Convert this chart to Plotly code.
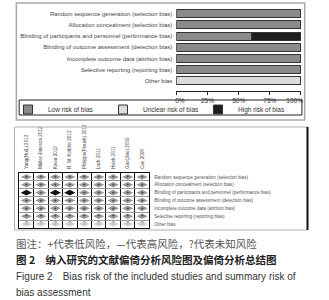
import plotly.graph_objects as go

W, H = 329, 300

# ---------------- data ----------------
domains = [
    "Random sequence generation (selection bias)",
    "Allocation concealment (selection bias)",
    "Blinding of participants and personnel (performance bias)",
    "Blinding of outcome assessment (detection bias)",
    "Incomplete outcome data (attrition bias)",
    "Selective reporting (reporting bias)",
    "Other bias",
]
low_pct = [100, 100, 60, 100, 100, 100, 0]
unclear_pct = [0, 0, 0, 0, 0, 0, 100]
high_pct = [0, 0, 40, 0, 0, 0, 0]
pct_ticks = [0, 25, 50, 75, 100]
pct_labels = ["0%", "25%", "50%", "75%", "100%"]

studies = [
    "Yang(Hu)Li 2013",
    "Müller-Jansson 2012",
    "Kawa 2012",
    "R. W. Kotbler 2012",
    "Philippe(Piyush) 2012",
    "Luck 2011",
    "Hsieh 2011",
    "Gao(Jiao) 2009",
    "Cao 2008",
]
# judgement per domain (rows) x study (cols): L low, H high, U unclear
judgements = [
    "LLLLLLLLL",
    "LLLLLLLLL",
    "HLHHLLLLL",
    "LLLLLLLLL",
    "LLLLLLLLL",
    "LLLLLLLLL",
    "UUUUUUUUU",
]

caption_note = "图注：+代表低风险，—代表高风险，?代表未知风险"
caption_cn = "图 2　纳入研究的文献偏倚分析风险图及偏倚分析总结图"
caption_en1 = "Figure 2　Bias risk of the included studies and summary risk of"
caption_en2 = "bias assessment"

C_LOW, C_UNC, C_HIGH = "#8a8a8a", "#dcdcdc", "#1e1e1e"
legend_names = ["Low risk of bias", "Unclear risk of bias", "High risk of bias"]

def px(x):
    return x / W

def py(y):
    return 1 - y / H

# edge tick labels sit inside the axis span (as in the reference)
NB = "\u00a0"
tick_text = list(pct_labels)
tick_text[0] = NB * 4 + tick_text[0]
tick_text[-1] = tick_text[-1] + NB * 7

fig = go.Figure()
rows = list(range(len(domains)))

# ---------------- top summary bars ----------------
for name, vals, col in zip(legend_names, [low_pct, unclear_pct, high_pct],
                           [C_LOW, C_UNC, C_HIGH]):
    fig.add_trace(go.Bar(
        y=rows, x=vals, orientation="h", name=name,
        marker=dict(color=col, line=dict(color="#333333", width=1)),
        xaxis="x", yaxis="y", showlegend=False, hoverinfo="skip",
    ))
# legend entries (small square keys)
for name, col in zip(legend_names, [C_LOW, C_UNC, C_HIGH]):
    fig.add_trace(go.Scatter(
        x=[None], y=[None], mode="markers", name=name,
        marker=dict(symbol="square", size=9, color=col,
                    line=dict(color="#333333", width=1)),
        xaxis="x", yaxis="y", showlegend=True,
    ))

# ---------------- bottom grid ----------------
mark_style = {
    "L": dict(color="#9a9a9a", txt="+", tcol="#222222"),
    "H": dict(color="#111111", txt="−", tcol="#111111"),
    "U": dict(color="#d2d2d2", txt="?", tcol="#888888"),
}
for key, st in mark_style.items():
    xs, ys = [], []
    for r, row in enumerate(judgements):
        for c, j in enumerate(row):
            if j == key:
                xs.append(c)
                ys.append(r)
    fig.add_trace(go.Scatter(
        x=xs, y=ys, mode="markers+text", text=[st["txt"]] * len(xs),
        textposition="middle center",
        textfont=dict(size=5, color=st["tcol"], family="Liberation Sans"),
        marker=dict(symbol="diamond-wide", size=8, color=st["color"],
                    line=dict(width=0)),
        xaxis="x2", yaxis="y2", showlegend=False, hoverinfo="skip",
    ))

# captions
caps = [
    (caption_note, 243, 10.5, "#555555", "Noto Sans CJK SC"),
    ("<b>" + caption_cn + "</b>", 259, 10.5, "#222222", "Noto Sans CJK SC"),
    (caption_en1, 276, 10, "#333333", "Liberation Sans"),
    (caption_en2, 292, 10, "#333333", "Liberation Sans"),
]
annotations = []
for txt, y, sz, col, fam in caps:
    annotations.append(dict(
        text=txt, x=px(6), y=py(y), xref="paper", yref="paper",
        xanchor="left", yanchor="middle", showarrow=False,
        font=dict(size=sz, color=col, family=fam),
    ))

shapes = [
    # top panel frame
    dict(type="rect", xref="paper", yref="paper", x0=px(9), x1=px(319),
         y0=py(120), y1=py(3), line=dict(color="#a8a8a8", width=1.5)),
    # legend box
    dict(type="rect", xref="paper", yref="paper", x0=px(12), x1=px(316),
         y0=py(115), y1=py(100), line=dict(color="#222222", width=1)),
    # bottom panel frame
    dict(type="rect", xref="paper", yref="paper", x0=px(7), x1=px(322),
         y0=py(230), y1=py(127), line=dict(color="#b0b0b0", width=1)),
    dict(type="line", xref="paper", yref="paper", x0=px(322), x1=px(322),
         y0=py(230), y1=py(127), line=dict(color="#111111", width=2)),
]

fig.update_layout(
    width=W, height=H, margin=dict(l=0, r=0, t=0, b=0),
    paper_bgcolor="white", plot_bgcolor="white",
    barmode="stack", bargap=0.28,
    font=dict(family="Liberation Sans", color="#333333"),
    xaxis=dict(domain=[px(181), px(315)], range=[0, 100], anchor="y",
               showgrid=False, zeroline=False, showline=True,
               linecolor="#222222", linewidth=1, ticks="outside", ticklen=3,
               tickcolor="#222222", tickvals=pct_ticks, ticktext=tick_text,
               ticklabeloverflow="allow",
               tickfont=dict(size=6.5, color="#333333")),
    yaxis=dict(domain=[py(91), py(8)], range=[6.9, -0.5], anchor="x",
               showgrid=False, zeroline=False, showline=False,
               tickvals=rows, ticktext=domains, ticks="",
               ticklabelstandoff=3,
               tickfont=dict(size=6, color="#444444")),
    xaxis2=dict(domain=[px(12), px(152)], range=[-0.5, len(studies) - 0.5],
                anchor="y2", side="top", showgrid=False, zeroline=False,
                showline=True, mirror=True, linecolor="#111111", linewidth=1,
                tickvals=list(range(len(studies))), ticktext=studies,
                tickangle=-90, ticks="", ticklabelstandoff=2,
                tickfont=dict(size=4.6, color="#444444"),
                minor=dict(tick0=0.5, dtick=1, showgrid=True,
                           gridcolor="#111111", gridwidth=1)),
    yaxis2=dict(domain=[py(228), py(173)], range=[len(domains) - 0.5, -0.5],
                anchor="x2", side="right", showgrid=False, zeroline=False,
                showline=True, mirror=True, linecolor="#111111", linewidth=1,
                tickvals=rows, ticktext=domains, ticks="", ticklabelstandoff=3,
                tickfont=dict(size=4.6, color="#555555"),
                minor=dict(tick0=0.5, dtick=1, showgrid=True,
                           gridcolor="#999999", gridwidth=1)),
    legend=dict(orientation="h", x=0, y=py(95), xanchor="left",
                yanchor="top", bgcolor="rgba(0,0,0,0)",
                entrywidth=50, entrywidthmode="pixels",
                itemwidth=30, traceorder="normal", tracegroupgap=0,
                font=dict(size=6.5, color="#333333")),
    annotations=annotations,
    shapes=shapes,
)

fig.write_html(
    "out.html",
    config={"displayModeBar": False, "staticPlot": True},
    post_script="document.body.style.margin='0';document.body.style.overflow='hidden';",
)
